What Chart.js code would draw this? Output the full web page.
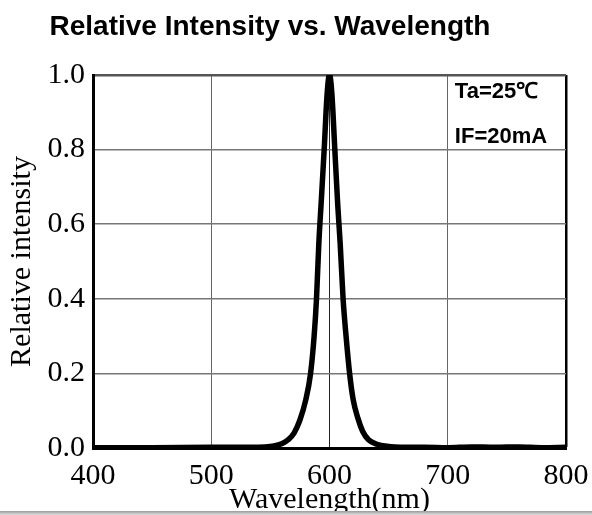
<!DOCTYPE html>
<html>
<head>
<meta charset="utf-8">
<script src="https://cdn.jsdelivr.net/npm/chart.js@4/dist/chart.umd.min.js"></script>
<style>
  body { margin: 0; background: #fff; }
  #wrap { position: relative; width: 592px; height: 515px; overflow: hidden; }
  #title {
    position: absolute; left: 0; top: 12px; width: 540px; text-align: center;
    font: bold 28px "Liberation Sans", Arial, sans-serif; line-height: 28px; color: #000;
  }
  #band {
    position: absolute; left: 0; bottom: 0; width: 592px; height: 4px;
    background: linear-gradient(#9a9a9a, #e0e0e0);
  }
</style>
</head>
<body>
<div id="wrap">
  <canvas id="spectrum" width="592" height="515"></canvas>
  <div id="title">Relative Intensity vs. Wavelength</div>
  <div id="band"></div>
</div>
<script>
// spectrum (nm / relative intensity)
var wavelengths = [400, 450, 500, 520, 540, 550, 560, 565, 570, 575, 580, 584, 587, 589, 591, 593, 595.5, 598, 600,
                   602, 604.5, 607, 609, 611.5, 614, 617, 620, 624, 628, 633, 640, 650, 660, 680, 700, 720, 740, 760, 780, 800];
var intensities = [0.001, 0.001, 0.002, 0.002, 0.002, 0.004, 0.012, 0.022, 0.04, 0.075, 0.13, 0.2, 0.3, 0.4, 0.55, 0.66, 0.8, 0.95, 1.0,
                   0.95, 0.8, 0.65, 0.55, 0.4, 0.3, 0.2, 0.13, 0.08, 0.045, 0.022, 0.01, 0.004, 0.002, 0.002, 0.001, 0.003, 0.002, 0.003, 0.001, 0.002];

var xTicks = [400, 500, 600, 700, 800];
var yTicks = [0.0, 0.2, 0.4, 0.6, 0.8, 1.0];

var notes = ['Ta=25\u2103', 'IF=20mA'];
var notePos = [[706, 0.954], [706, 0.834]];

var serif = '"Liberation Serif", "Times New Roman", serif';

var points = [];
for (var i = 0; i < wavelengths.length; i++) {
  points.push({x: wavelengths[i], y: intensities[i]});
}

// draws the Ta / IF text inside the plot
var notesPlugin = {
  id: 'notes',
  afterDraw: function(chart) {
    var ctx = chart.ctx;
    var xs = chart.scales.x, ys = chart.scales.y;
    ctx.save();
    ctx.font = 'bold 22px "Liberation Sans", Arial, sans-serif';
    ctx.fillStyle = '#000';
    ctx.textBaseline = 'middle';
    ctx.textAlign = 'left';
    for (var k = 0; k < notes.length; k++) {
      ctx.fillText(notes[k], xs.getPixelForValue(notePos[k][0]), ys.getPixelForValue(notePos[k][1]));
    }
    ctx.restore();
  }
};

var ctx = document.getElementById('spectrum').getContext('2d');
var chart = new Chart(ctx, {
  type: 'line',
  data: {
    datasets: [{
      label: 'Relative intensity',
      data: points,
      borderColor: '#000',
      borderWidth: 5.5,
      pointRadius: 0,
      fill: false,
      cubicInterpolationMode: 'monotone'
    }]
  },
  options: {
    responsive: false,
    animation: false,
    layout: { padding: { top: 75, right: 26, left: 0, bottom: 0 } },
    plugins: { legend: { display: false }, title: { display: false }, tooltip: { enabled: false } },
    scales: {
      x: {
        type: 'linear',
        min: 400, max: 800,
        afterBuildTicks: function(scale) { scale.ticks = xTicks.map(function(v) { return {value: v}; }); },
        afterFit: function(scale) { scale.height = 67; scale.paddingLeft = 0; scale.paddingRight = 0; },
        border: { color: '#000', width: 3 },
        grid: {
          drawTicks: false,
          color: function(c) { return c.tick && c.tick.value === 800 ? '#000' : (c.tick && c.tick.value === 600 ? '#222' : '#666'); },
          lineWidth: function(c) { return c.tick && c.tick.value === 800 ? 2.5 : 1; }
        },
        ticks: { color: '#000', padding: 10, font: { family: serif, size: 30 }, maxRotation: 0 },
        title: { display: true, text: 'Wavelength(nm)', color: '#000', font: { family: serif, size: 30 }, padding: { top: 0, bottom: -3 } }
      },
      y: {
        min: 0, max: 1,
        afterBuildTicks: function(scale) { scale.ticks = yTicks.map(function(v) { return {value: v}; }); },
        afterFit: function(scale) { scale.width = 93; },
        border: { color: '#000', width: 3 },
        grid: {
          drawTicks: false,
          color: function(c) { return c.tick && c.tick.value === 1 ? '#555' : '#777'; },
          lineWidth: function(c) { return c.tick && c.tick.value === 1 ? 2.5 : 1.5; }
        },
        ticks: {
          color: '#000', padding: 8, font: { family: serif, size: 30 },
          callback: function(v) { return Number(v).toFixed(1); }
        },
        title: { display: true, text: 'Relative intensity', color: '#000', font: { family: serif, size: 30 }, padding: { top: 4, bottom: 0 } }
      }
    }
  },
  plugins: [notesPlugin]
});
</script>
</body>
</html>
